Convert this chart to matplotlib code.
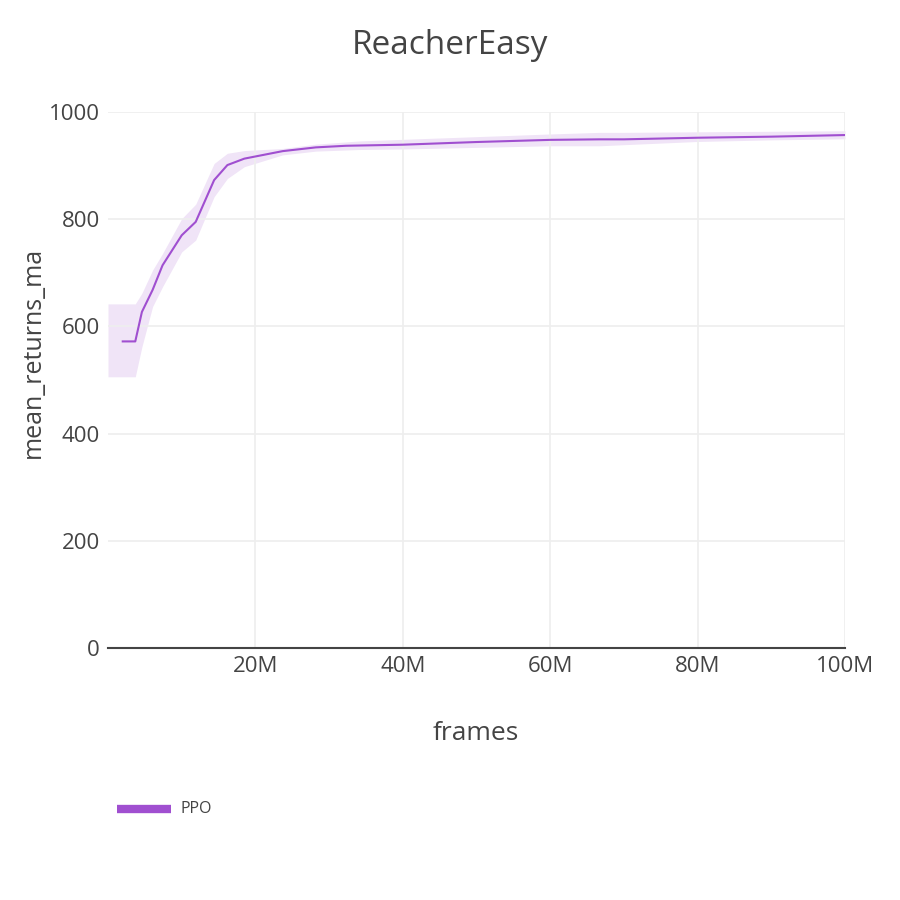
import matplotlib
matplotlib.use('Agg')
import matplotlib.pyplot as plt
from matplotlib.ticker import FuncFormatter

# ============================================================
# DATA
# ============================================================

frames = [2.0e6, 3.7e6, 4.6e6, 6.05e6, 7.4e6, 10.0e6, 11.9e6, 14.4e6,
          16.2e6, 18.5e6, 23.7e6, 28.2e6, 32.3e6, 40e6, 50e6, 60e6,
          66.7e6, 70e6, 80e6, 90e6, 100e6]
mean_returns = [572, 572, 627, 668, 714, 770, 795, 873,
                901, 913, 927, 934, 937, 939, 944, 948,
                949, 949, 952, 954, 957]

band_frames = [0.0, 3.7e6, 4.6e6, 6.05e6, 7.4e6, 10.0e6, 11.9e6, 14.4e6,
               16.2e6, 18.5e6, 23.7e6, 28.2e6, 34.1e6, 40e6, 50e6, 60e6,
               66.7e6, 70e6, 80e6, 90e6, 100e6]
band_upper = [642, 642, 662, 705, 736, 801, 828, 904,
              923, 928, 932, 940, 946, 949, 954, 959,
              962, 962, 963, 964, 965]
band_lower = [506, 506, 562, 637, 674, 739, 761, 842,
              876, 898, 920, 927, 930, 931, 934, 937,
              937, 939, 945, 948, 950]

title = 'ReacherEasy'
x_label = 'frames'
y_label = 'mean_returns_ma'
series_name = 'PPO'
x_ticks = [20e6, 40e6, 60e6, 80e6, 100e6]
y_ticks = [0, 200, 400, 600, 800, 1000]

LINE = '#a04fd0'
FILL = '#f0e4f7'
TEXT = '#444444'
GRID = '#eeeeee'

plt.rcParams['font.family'] = ['Open Sans', 'DejaVu Sans']

fig = plt.figure(figsize=(9, 9), dpi=100)
W, H = 900, 900
ax = fig.add_axes([108 / W, 1 - 648 / H, (845 - 108) / W, (648 - 112) / H])

ax.fill_between(band_frames, band_lower, band_upper, color=FILL, lw=0, zorder=1)
ax.plot(frames, mean_returns, color=LINE, lw=1.5, zorder=3)

ax.set_xlim(0, 100e6)
ax.set_ylim(0, 1000)
ax.set_xticks(x_ticks)
ax.set_yticks(y_ticks)
ax.xaxis.set_major_formatter(FuncFormatter(lambda v, p: f'{int(round(v / 1e6))}M'))
ax.tick_params(length=0, labelsize=16, colors=TEXT, pad=6)
ax.grid(True, color=GRID, lw=1.2, zorder=0)
for s in ax.spines.values():
    s.set_visible(False)
ax.axhline(0, color='#444444', lw=1.5, zorder=4, clip_on=False)

fig.text(0.5, 1 - 45 / H, title, ha='center', va='center', fontsize=24, color=TEXT)
fig.text(476 / W, 1 - 733 / H, x_label, ha='center', va='center', fontsize=19, color=TEXT)
fig.text(33 / W, 1 - 352 / H, y_label, ha='center', va='center', rotation=90,
         fontsize=18, color=TEXT)

# legend drawn by hand in figure coords
fig.add_artist(plt.Line2D([117 / W, 171 / W], [1 - 809 / H, 1 - 809 / H],
                          color=LINE, lw=6, solid_capstyle='butt'))
fig.text(180 / W, 1 - 809 / H, series_name, ha='left', va='center',
         fontsize=11.5, color=TEXT)

fig.savefig('out.png', dpi=100)
